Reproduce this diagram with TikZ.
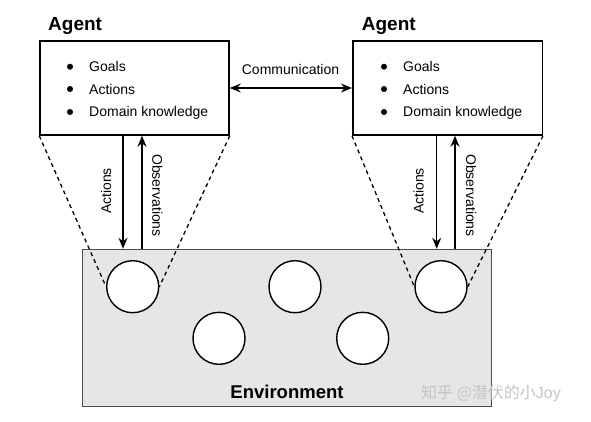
\documentclass[tikz,border=0pt]{standalone}
\usepackage{fontspec}
\setmainfont{Liberation Sans}
\newfontfamily\cjk{Noto Sans CJK SC}
\usepackage{tikz}
\usetikzlibrary{positioning}
\usetikzlibrary{arrows.meta,calc}
\definecolor{envgray}{HTML}{E6E6E6}
\definecolor{markgray}{HTML}{C4C4C4}

\begin{document}
\begin{tikzpicture}
  [x=1pt,y=-1pt,
  agentbox/.style={rectangle,draw=black,line width=1.5pt,fill=white,minimum width=189pt,minimum height=94pt,inner sep=0pt},
  envbox/.style={rectangle,draw=black!70,line width=1.4pt,fill=envgray,minimum width=409pt,minimum height=157pt,inner sep=0pt},
  spot/.style={circle,draw=black,fill=white,line width=1.4pt,inner sep=0pt,minimum size=52pt},
  dot/.style={circle,draw=black,fill=black,inner sep=0pt,minimum size=5.5pt},
  item/.style={anchor=base west,inner sep=0pt,font=\fontsize{14}{16}\selectfont},
  title/.style={anchor=base west,inner sep=0pt,font=\fontsize{19}{22}\selectfont\bfseries},
  lbl/.style={inner sep=0pt,font=\fontsize{14}{16}\selectfont},
  arr/.style={line width=1.4pt,-{Stealth[length=11pt,width=9pt]}},
  viewline/.style={line width=1.3pt,dash pattern=on 4pt off 3.5pt}]
  \useasboundingbox (0,0) rectangle (591,421);

  % environment and its spots
  \node[envbox] (100) at (287,328) {};
  \node[spot] (141) at (132.7,286.7) {};
  \node[spot] (142) at (219,338.3) {};
  \node[spot] (143) at (295,286.7) {};
  \node[spot] (144) at (362.7,338.3) {};
  \node[spot] (145) at (441,286.7) {};
  \node[anchor=base,inner sep=0pt,font=\fontsize{18.5}{22}\selectfont\bfseries] (101) at (287,398) {Environment};
  \node[anchor=base,inner sep=0pt,text=markgray,font=\fontsize{16}{20}\selectfont] (102) at (491,398) {{\cjk 知乎 @潜伏的小}Joy};

  % agents
  \node[agentbox] (111) at (134.5,88) {};
  \node[agentbox,minimum width=189.5pt] (121) at (447.5,88) {};
  \node[title] (110) at (48,30) {Agent};
  \node[title] (120) at (361.7,30) {Agent};

  \node[dot] (112) at (70,66.7) {};
  \node[dot] (113) at (70,89) {};
  \node[dot] (114) at (70,112) {};
  \node[item] (115) at (89,71.7) {Goals};
  \node[item] (116) at (89,94) {Actions};
  \node[item] (117) at (89,116.7) {Domain knowledge};

  \node[dot] (122) at (384,66.7) {};
  \node[dot] (123) at (384,89) {};
  \node[dot] (124) at (384,112) {};
  \node[item] (125) at (403,71.7) {Goals};
  \node[item] (126) at (403,94) {Actions};
  \node[item] (127) at (403,116.7) {Domain knowledge};

  % views onto the environment
  \draw [viewline] (111.south west) -- (141.west);
  \draw [viewline] (111.south east) -- (141.east);
  \draw [viewline] (121.south west) -- (145.west);
  \draw [viewline] (121.south east) -- (145.east);

  % communication
  \draw [arr,{Stealth[length=11pt,width=9pt]}-{Stealth[length=11pt,width=9pt]}] (111.east) -- (121.west);
  \node[lbl,anchor=base] (130) at (290.5,74) {Communication};

  % actions and observations
  \draw [arr] ([xshift=-11.5pt]111.south) -- ([xshift=-11.5pt]111.south |- 100.north);
  \draw [arr] ([xshift=7.5pt]111.south |- 100.north) -- ([xshift=7.5pt]111.south);
  \draw [arr] ([xshift=-10.8pt]121.south) -- ([xshift=-10.8pt]121.south |- 100.north);
  \draw [arr] ([xshift=7.5pt]121.south |- 100.north) -- ([xshift=7.5pt]121.south);
  \node[lbl,rotate=90] (131) at (106,191) {Actions};
  \node[lbl,rotate=-90] (132) at (157.5,195.5) {Observations};
  \node[lbl,rotate=90] (133) at (418.7,191) {Actions};
  \node[lbl,rotate=-90] (134) at (471,195.5) {Observations};

\end{tikzpicture}
\end{document}
